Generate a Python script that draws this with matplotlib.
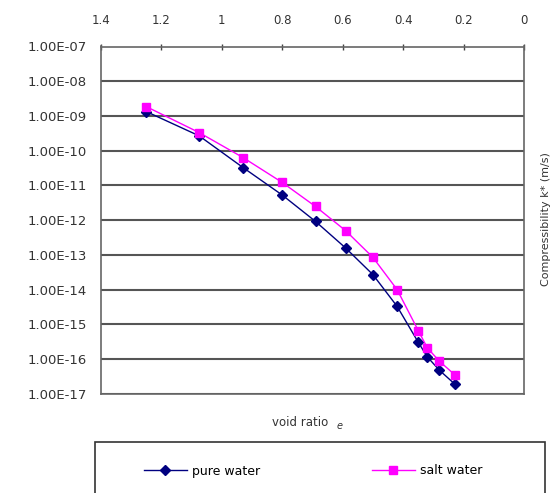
import numpy as np
import matplotlib
matplotlib.use("Agg")
import matplotlib.pyplot as plt
from matplotlib.patches import Rectangle
from matplotlib.ticker import FixedLocator, FuncFormatter

# data
void_ratio = [1.25, 1.075, 0.93, 0.80, 0.69, 0.59, 0.50, 0.42, 0.35, 0.32, 0.28, 0.23]
k_pure = [1.34e-9, 2.68e-10, 3.29e-11, 5.30e-12, 9.25e-13, 1.58e-13,
          2.72e-14, 3.33e-15, 3.08e-16, 1.17e-16, 4.83e-17, 1.96e-17]
k_salt = [1.86e-9, 3.33e-10, 6.38e-11, 1.22e-11, 2.49e-12, 4.99e-13,
          8.53e-14, 1.01e-14, 6.68e-16, 2.13e-16, 8.77e-17, 3.63e-17]
x_ticks = [1.4, 1.2, 1, 0.8, 0.6, 0.4, 0.2, 0]
y_ticks = [10.0 ** p for p in range(-17, -6)]

fig = plt.figure(figsize=(5.52, 4.93), dpi=100)
ax = fig.add_axes([101/552, 1-394/493, 423/552, 347.5/493])

ax.plot(void_ratio, k_pure, color='#000080', lw=1, marker='D', ms=5, label='pure water')
ax.plot(void_ratio, k_salt, color='#ff00ff', lw=1, marker='s', ms=6, label='salt water')

ax.set_yscale('log')
ax.set_ylim(1e-17, 1e-7)
ax.set_xlim(1.4, 0)
ax.yaxis.set_major_locator(FixedLocator(y_ticks))
ax.yaxis.set_minor_locator(FixedLocator([]))
ax.yaxis.set_major_formatter(FuncFormatter(lambda v, p: '1.00E-%02d' % round(-np.log10(v))))
ax.xaxis.set_major_locator(FixedLocator(x_ticks))
ax.xaxis.set_major_formatter(FuncFormatter(lambda v, p: '%g' % v))
ax.xaxis.tick_top()
ax.tick_params(axis='x', direction='inout', length=4, width=1, color='#444444',
               pad=12, labelsize=8.5, labelcolor='#333333')
ax.tick_params(axis='y', length=0, pad=10, labelsize=9.5, labelcolor='#333333')
ax.grid(axis='y', color='#555555', lw=1.5)
for s in ax.spines.values():
    s.set_color('#666666')
    s.set_linewidth(1.2)

fig.text(300/552, 1-423/493, 'void ratio', ha='center', va='center', fontsize=8.5, color='#333333')
fig.text(340/552, 1-426/493, '$e$', ha='center', va='center', fontsize=7, color='#333333')
fig.text(546/552, 0.555, 'Compressibility k* (m/s)', rotation=90, ha='center', va='center',
         fontsize=8, color='#333333')

# legend box, bottom is cut off by the figure edge
fig.patches.append(Rectangle((95/552, -0.05), 450/552, 1-442/493+0.05, transform=fig.transFigure,
                             fill=False, edgecolor='#333333', lw=1.2))
fig.legend(loc='center', bbox_to_anchor=(313/552, 1-471/493), ncol=2, frameon=False,
           fontsize=9, handlelength=3.4, columnspacing=9, handletextpad=0.4)

fig.savefig('out.png', dpi=100)
